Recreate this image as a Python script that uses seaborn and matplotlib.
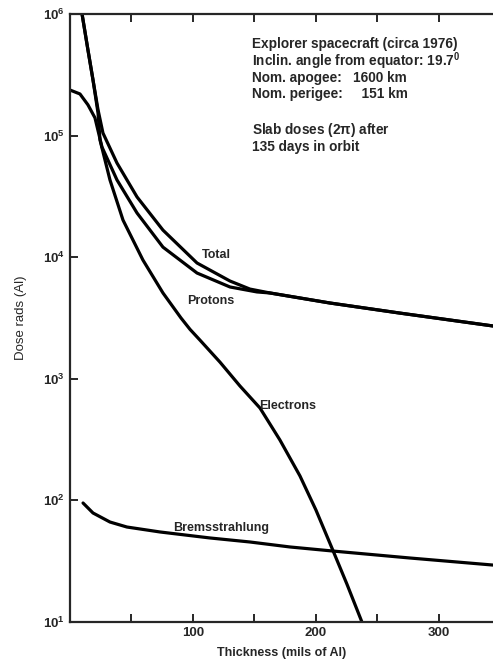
import matplotlib
matplotlib.use("Agg")
import matplotlib.pyplot as plt
import seaborn as sns
import pandas as pd
from matplotlib.ticker import FixedLocator, LogLocator, NullLocator

electrons_x = [9.8, 14.6, 18.7, 22.8, 24.4, 32.5, 43.1, 59.3, 75.6, 90.2, 97.6, 105.7, 122.0, 138.2,
               154.5, 170.7, 187.0, 200.0, 213.0, 225.2, 237.4]
electrons_y = [1.0e6, 5.06e5, 2.87e5, 1.53e5, 9.2e4, 4.32e4, 2.02e4, 9.48e3, 5.08e3, 3.17e3, 2.55e3,
               2.08e3, 1.37e3, 873, 575, 314, 159, 83.4, 40.6, 20.5, 10]

protons_x = [0.0, 8.1, 14.6, 20.3, 26.0, 38.2, 54.5, 75.6, 103.3, 130.1, 152.0, 162.6, 211.4, 268.3, 343.9]
protons_y = [2.37e5, 2.2e5, 1.79e5, 1.40e5, 8.05e4, 4.32e4, 2.31e4, 1.21e4, 7.41e3, 5.69e3, 5.18e3,
             5.08e3, 4.20e3, 3.47e3, 2.72e3]

total_x = [9.8, 14.6, 18.7, 22.8, 26.8, 38.2, 54.5, 75.6, 103.3, 130.1, 146.3, 162.6, 211.4, 268.3, 343.9]
total_y = [1.0e6, 5.06e5, 2.87e5, 1.63e5, 1.05e5, 5.95e4, 3.13e4, 1.67e4, 8.96e3, 6.37e3, 5.47e3,
           5.08e3, 4.20e3, 3.47e3, 2.72e3]

brems_x = [10.6, 18.7, 32.5, 46.3, 73.2, 113.8, 146.3, 178.9, 213.0, 276.4, 343.9]
brems_y = [95.2, 78.8, 66.4, 60.4, 55.0, 49.1, 45.5, 41.4, 38.4, 33.6, 29.4]

curves = {"Electrons": (electrons_x, electrons_y), "Protons": (protons_x, protons_y),
          "Total": (total_x, total_y), "Bremsstrahlung": (brems_x, brems_y)}

x_major = [100, 200, 300]
x_minor = [50, 150, 250]

note_lines = ["Explorer spacecraft (circa 1976)",
              "Inclin. angle from equator: 19.7$^0$",
              "Nom. apogee:   1600 km",
              "Nom. perigee:     151 km",
              "Slab doses (2$\\pi$) after",
              "135 days in orbit"]
note_y = [0.951, 0.923, 0.895, 0.868, 0.809, 0.781]

sns.set_style("ticks")
plt.rcParams["font.family"] = ["Liberation Sans", "DejaVu Sans"]
plt.rcParams["mathtext.default"] = "regular"

fig = plt.figure(figsize=(4.93, 6.62), dpi=100)
ax = fig.add_axes([70 / 493, 40 / 662, 423 / 493, 608 / 662])

for name, (xs, ys) in curves.items():
    df = pd.DataFrame({"x": xs, "y": ys})
    sns.lineplot(data=df, x="x", y="y", ax=ax, color="black", lw=2.3,
                 sort=False, estimator=None)

ax.set_yscale("log")
ax.set_ylim(10, 1e6)
ax.set_xlim(0, 344)
ax.xaxis.set_major_locator(FixedLocator(x_major))
ax.xaxis.set_minor_locator(FixedLocator(x_minor))
ax.yaxis.set_major_locator(LogLocator(base=10))
ax.yaxis.set_minor_locator(NullLocator())
ax.tick_params(axis="x", which="both", direction="in", top=True, length=6, width=1.4)
ax.tick_params(axis="y", which="major", direction="in", length=6, width=1.4)
ax.tick_params(labelsize=9.5)
for lab in ax.get_xticklabels() + ax.get_yticklabels():
    lab.set_fontweight("bold")

for side in ["left", "bottom", "top"]:
    ax.spines[side].set_linewidth(1.6)
ax.spines["right"].set_visible(False)

ax.set_xlabel("Thickness (mils of Al)", fontsize=9, fontweight="bold", labelpad=6)
ax.set_ylabel("Dose rads (Al)", fontsize=9.5, labelpad=12)

lab_kw = dict(fontsize=9, fontweight="bold", ha="left", va="center")
ax.text(107, 1.04e4, "Total", **lab_kw)
ax.text(95, 4.37e3, "Protons", **lab_kw)
ax.text(154, 597, "Electrons", **lab_kw)
ax.text(84, 59.3, "Bremsstrahlung", **lab_kw)

for line, yy in zip(note_lines, note_y):
    ax.text(0.43, yy, line, transform=ax.transAxes, fontsize=9.8, fontweight="bold",
            ha="left", va="center")

fig.savefig("out.png", dpi=100)
